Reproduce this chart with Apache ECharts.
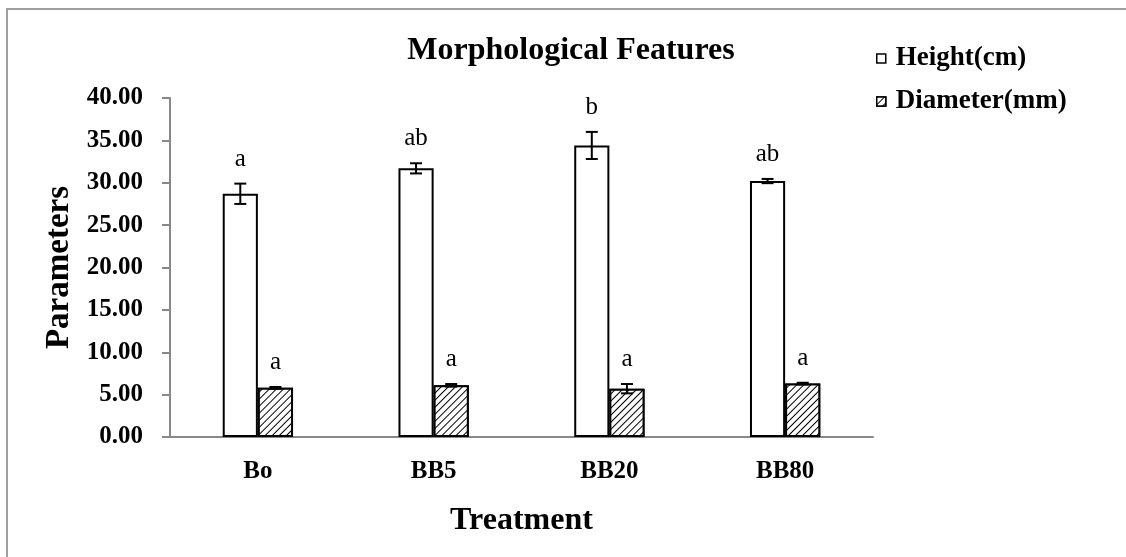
<!DOCTYPE html>
<html>
<head>
<meta charset="utf-8">
<script src="https://cdn.jsdelivr.net/npm/echarts@6/dist/echarts.min.js"></script>
<style>
  html, body { margin: 0; padding: 0; background: #fff; }
  #chart { width: 1126px; height: 557px; }
</style>
</head>
<body>
<div id="chart"></div>
<script>
// data
const categories = ['Bo', 'BB5', 'BB20', 'BB80']
const heightMean = [28.7, 31.7, 34.4, 30.2]
const heightErr = [1.2, 0.6, 1.6, 0.25]
const heightLetters = ['a', 'ab', 'b', 'ab']
const diameterMean = [5.8, 6.1, 5.7, 6.3]
const diameterErr = [0.1, 0.15, 0.55, 0.1]
const diameterLetters = ['a', 'a', 'a', 'a']
const yTicks = [0, 5, 10, 15, 20, 25, 30, 35, 40]

const serif = '"Liberation Serif", "DejaVu Serif", serif'

const hatch = {
  symbol: 'rect',
  color: '#000',
  backgroundColor: '#fff',
  dashArrayX: [1, 0],
  dashArrayY: [1, 3.5],
  rotation: -Math.PI / 4
}

// error bar + significance letter, shifted to sit on its bar
const errorSeries = (means, errs, letters, side) => ({
  type: 'custom',
  silent: true,
  z: 5,
  data: means.map((m, i) => [i, m, errs[i]]),
  renderItem: (params, api) => {
    const idx = api.value(0)
    const m = api.value(1)
    const e = api.value(2)
    const band = api.size([1, 0])[0]
    const dx = side * band * 0.1
    const top = api.coord([idx, m + e])
    const bot = api.coord([idx, m - e])
    const x = top[0] + dx
    const cap = 6
    const style = { stroke: '#000', lineWidth: 2 }
    return {
      type: 'group',
      children: [
        { type: 'line', shape: { x1: x, y1: top[1], x2: x, y2: bot[1] }, style },
        { type: 'line', shape: { x1: x - cap, y1: top[1], x2: x + cap, y2: top[1] }, style },
        { type: 'line', shape: { x1: x - cap, y1: bot[1], x2: x + cap, y2: bot[1] }, style },
        {
          type: 'text',
          style: {
            text: letters[params.dataIndex],
            x: x,
            y: top[1] - 12,
            align: 'center',
            verticalAlign: 'bottom',
            font: '25px ' + serif,
            fill: '#000'
          }
        }
      ]
    }
  }
})

const chart = echarts.init(document.getElementById('chart'))

chart.setOption({
  animation: false,
  backgroundColor: '#fff',
  graphic: [{
    type: 'rect',
    shape: { x: 7, y: 9, width: 1140, height: 570 },
    style: { fill: 'none', stroke: '#a0a0a0', lineWidth: 2 },
    silent: true
  }],
  title: {
    text: 'Morphological Features',
    left: 566,
    top: 30,
    textAlign: 'center',
    textStyle: { fontFamily: serif, fontSize: 32, fontWeight: 'bold', color: '#000' }
  },
  legend: {
    orient: 'vertical',
    left: 871,
    top: 40,
    icon: 'rect',
    itemWidth: 9,
    itemHeight: 9,
    itemGap: 16,
    itemStyle: { borderWidth: 1.5 },
    textStyle: { fontFamily: serif, fontSize: 27, fontWeight: 'bold', color: '#000', padding: [0, 0, 0, 5] },
    data: ['Height(cm)', 'Diameter(mm)']
  },
  grid: { left: 170, right: 253, top: 98, bottom: 120 },
  xAxis: {
    type: 'category',
    data: categories,
    name: 'Treatment',
    nameLocation: 'middle',
    nameGap: 68,
    nameTextStyle: { fontFamily: serif, fontSize: 32, fontWeight: 'bold', color: '#000' },
    axisLine: { lineStyle: { color: '#888', width: 2 } },
    axisTick: { show: false },
    axisLabel: {
      fontFamily: serif, fontSize: 25, fontWeight: 'bold', color: '#000',
      margin: 22
    }
  },
  yAxis: {
    type: 'value',
    min: yTicks[0],
    max: yTicks[yTicks.length - 1],
    interval: yTicks[1] - yTicks[0],
    name: 'Parameters',
    nameLocation: 'middle',
    nameRotate: 90,
    nameGap: 92,
    nameTextStyle: { fontFamily: serif, fontSize: 33, fontWeight: 'bold', color: '#000' },
    axisLine: { show: true, lineStyle: { color: '#888', width: 2 } },
    axisTick: { show: true, length: 8, lineStyle: { color: '#888', width: 2 } },
    splitLine: { show: false },
    axisLabel: {
      fontFamily: serif, fontSize: 25, fontWeight: 'bold', color: '#000',
      margin: 27,
      formatter: v => v.toFixed(2)
    }
  },
  series: [
    {
      name: 'Height(cm)',
      type: 'bar',
      data: heightMean,
      barGap: '0%',
      barCategoryGap: '60%',
      itemStyle: { color: '#fff', borderColor: '#000', borderWidth: 2 }
    },
    {
      name: 'Diameter(mm)',
      type: 'bar',
      data: diameterMean,
      itemStyle: { color: '#fff', borderColor: '#000', borderWidth: 2, decal: hatch }
    },
    errorSeries(heightMean, heightErr, heightLetters, -1),
    errorSeries(diameterMean, diameterErr, diameterLetters, 1)
  ]
})
</script>
</body>
</html>
